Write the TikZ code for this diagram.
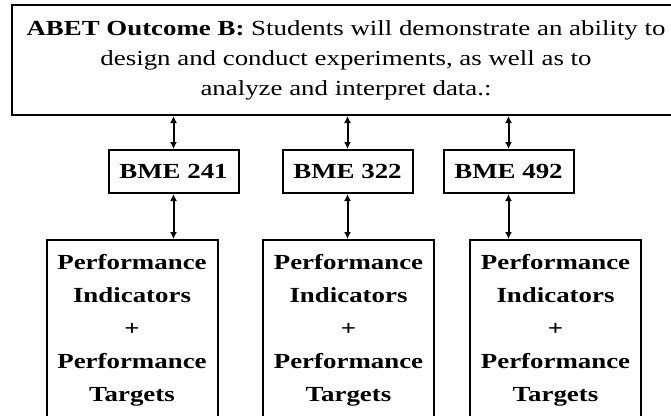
\documentclass[tikz,border=0pt]{standalone}
\usepackage{fontspec}
\setmainfont{Liberation Serif}[FakeStretch=1.25]
\usetikzlibrary{arrows.meta}
\tikzset{
  outcomebox/.style={draw, line width=2pt, minimum width=668pt, minimum height=110pt, align=center, font=\fontsize{21.5}{30}\selectfont},
  coursebox/.style={draw, line width=2pt, minimum width=130pt, minimum height=43pt, font=\fontsize{21.5}{26}\selectfont\bfseries},
  perfbox/.style={draw, line width=2pt, minimum width=171pt, minimum height=180pt, align=center, font=\fontsize{21.5}{33}\selectfont\bfseries},
  link/.style={line width=2pt, {Latex[length=7pt,width=7pt]}-{Latex[length=7pt,width=7pt]}},
}
\begin{document}
\begin{tikzpicture}[x=1pt,y=-1pt]
        \clip (0,0) rectangle (671,415);
        \node[outcomebox] (outcome) at (346,60) {\textbf{ABET Outcome B:} Students will demonstrate an ability to\\ design and conduct experiments, as well as to\\ analyze and interpret data.:};
        \node[coursebox] (bme241) at (173.5,171.5) {BME 241};
        \node[coursebox] (bme322) at (347.5,171.5) {BME 322};
        \node[coursebox] (bme492) at (508.5,171.5) {BME 492};
        \node[perfbox] (perf241) at (132,330) {Performance\\Indicators\\+\\Performance\\Targets};
        \node[perfbox] (perf322) at (348.5,330) {Performance\\Indicators\\+\\Performance\\Targets};
        \node[perfbox] (perf492) at (555.5,330) {Performance\\Indicators\\+\\Performance\\Targets};
        \foreach \c in {241,322,492} {
            \draw[link] (outcome.south -| bme\c) -- (bme\c.north);
            \draw[link] (bme\c.south) -- (bme\c.south |- perf\c.north);
        }
\end{tikzpicture}
\end{document}
